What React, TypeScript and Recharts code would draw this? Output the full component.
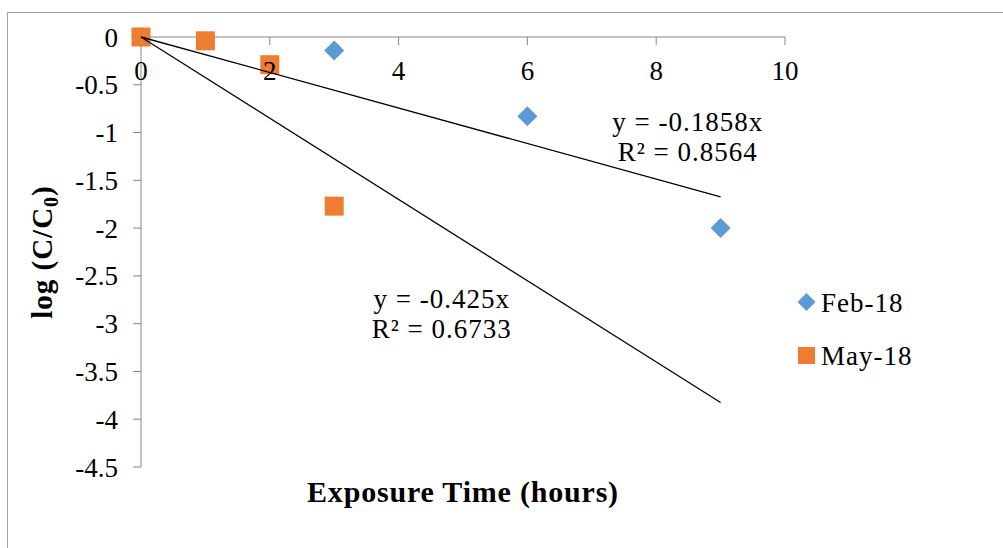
import { ScatterChart, Scatter, XAxis, YAxis, ReferenceDot, Legend, Label } from "recharts"

const serif = "'Liberation Serif', 'Times New Roman', serif"

// exposure time (hours) and log(C/C0)
const febX = [0, 3, 6, 9]
const febY = [0, -0.14, -0.83, -2.0]
const mayX = [0, 1, 2, 3]
const mayY = [0, -0.04, -0.29, -1.77]

// linear trendlines through the origin, drawn from x = 0 to x = 9
const febTrendX = [0, 9]
const febTrendY = [0, -1.672]
const mayTrendX = [0, 9]
const mayTrendY = [0, -3.825]

const xTicks = [0, 2, 4, 6, 8, 10]
const yTicks = [0, -0.5, -1, -1.5, -2, -2.5, -3, -3.5, -4, -4.5]

const febEq = ["y = -0.1858x", "R² = 0.8564"]
const mayEq = ["y = -0.425x", "R² = 0.6733"]
const febEqAt = { x: 8.49, y: -1.136 }
const mayEqAt = { x: 4.67, y: -2.988 }

const toPoints = (xs: number[], ys: number[]) => xs.map((x, i) => ({ x, y: ys[i] }))

const febData = toPoints(febX, febY)
const mayData = toPoints(mayX, mayY)
const febTrend = toPoints(febTrendX, febTrendY)
const mayTrend = toPoints(mayTrendX, mayTrendY)

const BLUE = "#5b9bd5"
const ORANGE = "#ed7d31"
const AXIS = "#868686"

const Diamond = (props: any) => {
    const { cx, cy } = props
    const r = 10
    return <polygon points={`${cx},${cy - r} ${cx + r},${cy} ${cx},${cy + r} ${cx - r},${cy}`} fill={BLUE} />
}

const Square = (props: any) => {
    const { cx, cy } = props
    const s = 19
    return <rect x={cx - s / 2} y={cy - s / 2} width={s} height={s} fill={ORANGE} />
}

const equation = (lines: string[]) => (props: any) => {
    const { cx, cy } = props
    return (
        <text textAnchor="middle" fontFamily={serif} fontSize={27} fill="#000" letterSpacing={1}>
            <tspan x={cx} y={cy - 15}>{lines[0]}</tspan>
            <tspan x={cx} y={cy + 15}>{lines[1]}</tspan>
        </text>
    )
}

const YTitle = () => (
    <text
        x={52}
        y={252}
        transform="rotate(-90, 52, 252)"
        textAnchor="middle"
        fontFamily={serif}
        fontWeight="bold"
        fontSize={29}
        fill="#000"
        letterSpacing={1}
    >
        log (C/C<tspan fontSize={20} dy={6}>0</tspan><tspan dy={-6}>)</tspan>
    </text>
)

const renderLegend = () => (
    <svg width={160} height={100} style={{ display: "block" }}>
        <polygon points="11.5,13 20.5,22 11.5,31 2.5,22" fill={BLUE} />
        <text x={26} y={32} fontFamily={serif} fontSize={27} fill="#000" letterSpacing={1}>Feb-18</text>
        <rect x={3} y={67} width={17} height={17} fill={ORANGE} />
        <text x={26} y={85} fontFamily={serif} fontSize={27} fill="#000" letterSpacing={1}>May-18</text>
    </svg>
)

export default function App() {
    return (
        <div style={{ position: "fixed", left: 0, top: 0, width: 1003, height: 548, overflow: "hidden", background: "#fff" }}>
            <div style={{ position: "absolute", left: 7, top: 12, width: 1100, height: 700, border: "1px solid #a0a0a0" }} />
            <div style={{ position: "absolute", left: 0, top: 0 }}>
                <ScatterChart width={1003} height={548} margin={{ top: 37, right: 218, bottom: 81, left: 0 }}>
                    <XAxis
                        type="number"
                        dataKey="x"
                        domain={[0, 10]}
                        ticks={xTicks}
                        orientation="top"
                        mirror
                        tickSize={8}
                        tickMargin={16}
                        stroke={AXIS}
                        tick={{ fill: "#000", fontSize: 27, fontFamily: serif }}
                    />
                    <YAxis
                        type="number"
                        dataKey="y"
                        domain={[-4.5, 0]}
                        ticks={yTicks}
                        width={141}
                        tickSize={8}
                        tickMargin={15}
                        stroke={AXIS}
                        tick={{ fill: "#000", fontSize: 27, fontFamily: serif }}
                        tickFormatter={(v: number) => String(v)}
                    >
                        <Label content={YTitle} />
                    </YAxis>
                    <Scatter name="Feb-18" data={febData} shape={Diamond} legendType="diamond" isAnimationActive={false} />
                    <Scatter name="May-18" data={mayData} shape={Square} legendType="square" isAnimationActive={false} />
                    <Scatter data={febTrend} line={{ stroke: "#000", strokeWidth: 1.3 }} shape={() => <g />} legendType="none" isAnimationActive={false} />
                    <Scatter data={mayTrend} line={{ stroke: "#000", strokeWidth: 1.3 }} shape={() => <g />} legendType="none" isAnimationActive={false} />
                    <ReferenceDot x={febEqAt.x} y={febEqAt.y} r={0} shape={equation(febEq)} />
                    <ReferenceDot x={mayEqAt.x} y={mayEqAt.y} r={0} shape={equation(mayEq)} />
                    <Legend
                        layout="vertical"
                        align="center"
                        verticalAlign="middle"
                        wrapperStyle={{ left: 795, top: 280, width: 160 }}
                        content={renderLegend}
                    />
                </ScatterChart>
            </div>
            <div
                style={{
                    position: "absolute",
                    left: 0,
                    width: 926,
                    top: 477,
                    textAlign: "center",
                    fontFamily: serif,
                    fontWeight: "bold",
                    fontSize: 30,
                    lineHeight: "30px",
                    letterSpacing: 0.8,
                }}
            >
                Exposure Time (hours)
            </div>
        </div>
    )
}
